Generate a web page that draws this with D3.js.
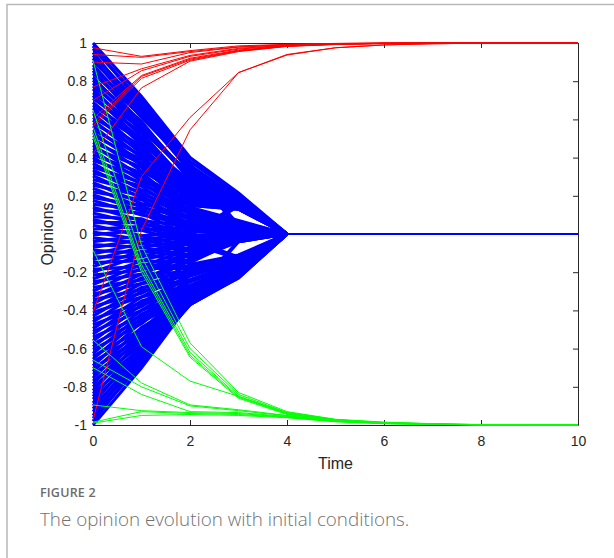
<!DOCTYPE html>
<html>
<head>
<meta charset="utf-8">
<script src="https://cdn.jsdelivr.net/npm/d3@7"></script>
<style>
  body { margin: 0; background: #fff; }
  svg { display: block; }
</style>
</head>
<body>
<script>
'use strict';

// time steps
const times = [0, 1, 2, 3, 4, 5, 6, 7, 8, 9, 10];

// blue agents: opinions at t = 0, 1, 2, 3 (all reach consensus 0 from t = 4)
const blueT0 = [1.00, 0.985, 0.97, 0.95, 0.935, 0.92, 0.905, 0.885, 0.87, 0.855,
  0.84, 0.82, 0.805, 0.79, 0.775, 0.76, 0.74, 0.725, 0.71, 0.69,
  0.675, 0.66, 0.645, 0.63, 0.61, 0.595, 0.58, 0.565, 0.545, 0.53,
  0.515, 0.50, 0.48, 0.465, 0.45, 0.435, 0.415, 0.40, 0.385, 0.37,
  0.35, 0.335, 0.32, 0.305, 0.285, 0.27, 0.255, 0.24, 0.22, 0.205,
  0.19, 0.175, 0.155, 0.14, 0.125, 0.11, 0.09, 0.075, 0.06, 0.045,
  0.025, 0.01, -0.005, -0.02, -0.04, -0.055, -0.07, -0.085, -0.105, -0.12,
  -0.135, -0.15, -0.17, -0.185, -0.2, -0.215, -0.235, -0.25, -0.265, -0.28,
  -0.30, -0.315, -0.33, -0.345, -0.365, -0.38, -0.395, -0.41, -0.43, -0.445,
  -0.46, -0.475, -0.495, -0.51, -0.525, -0.54, -0.56, -0.575, -0.59, -0.605,
  -0.625, -0.64, -0.655, -0.67, -0.69, -0.705, -0.72, -0.735, -0.755, -0.77,
  -0.785, -0.80, -0.82, -0.835, -0.85, -0.865, -0.885, -0.90, -0.915, -0.93,
  -0.95, -0.965, -0.98, -1.00];
const blueT1 = [0.72, 0.68, 0.70, 0.64, 0.67, 0.62, 0.66, 0.61, 0.63, 0.58,
  0.62, 0.56, 0.59, 0.54, 0.57, 0.51, 0.55, 0.49, 0.53, 0.47,
  0.50, 0.44, 0.49, 0.42, 0.46, 0.40, 0.44, 0.37, 0.41, 0.36,
  0.39, 0.33, 0.37, 0.30, 0.35, 0.28, 0.32, 0.26, 0.30, 0.23,
  0.27, 0.21, 0.25, 0.19, 0.22, 0.16, 0.20, 0.14, 0.18, 0.12,
  0.15, 0.10, 0.13, 0.07, 0.11, 0.05, 0.08, 0.02, 0.06, -0.01,
  0.04, -0.03, 0.02, -0.05, -0.01, -0.07, -0.03, -0.10, -0.05, -0.12,
  -0.07, -0.14, -0.09, -0.17, -0.11, -0.19, -0.14, -0.21, -0.16, -0.24,
  -0.18, -0.26, -0.21, -0.29, -0.23, -0.31, -0.26, -0.33, -0.28, -0.36,
  -0.30, -0.38, -0.33, -0.40, -0.35, -0.43, -0.37, -0.45, -0.40, -0.47,
  -0.42, -0.50, -0.44, -0.52, -0.46, -0.54, -0.49, -0.56, -0.51, -0.58,
  -0.53, -0.60, -0.55, -0.62, -0.58, -0.63, -0.60, -0.65, -0.62, -0.66,
  -0.64, -0.68, -0.66, -0.70];
const blueT2 = [0.40, 0.36, 0.38, 0.37, 0.34, 0.35, 0.32, 0.36, 0.33, 0.30,
  0.34, 0.31, 0.28, 0.32, 0.29, 0.26, 0.30, 0.27, 0.25, 0.28,
  0.24, 0.26, 0.22, 0.25, 0.21, 0.23, 0.19, 0.22, 0.18, 0.20,
  0.17, 0.19, 0.15, 0.17, 0.14, 0.16, 0.12, 0.15, 0.11, 0.13,
  0.10, 0.12, 0.08, 0.11, 0.07, 0.09, 0.05, 0.08, 0.04, 0.06,
  0.02, 0.05, 0.01, 0.04, -0.01, 0.02, -0.02, 0.03, -0.03, 0.01,
  -0.04, 0.00, -0.05, -0.01, -0.06, -0.03, -0.08, -0.04, -0.09, -0.05,
  -0.11, -0.07, -0.12, -0.08, -0.14, -0.10, -0.15, -0.11, -0.17, -0.13,
  -0.18, -0.14, -0.20, -0.16, -0.21, -0.18, -0.22, -0.19, -0.24, -0.21,
  -0.25, -0.22, -0.27, -0.24, -0.28, -0.25, -0.29, -0.27, -0.30, -0.28,
  -0.31, -0.29, -0.32, -0.30, -0.33, -0.31, -0.34, -0.32, -0.35, -0.33,
  -0.36, -0.34, -0.35, -0.36, -0.34, -0.37, -0.35, -0.36, -0.34, -0.37,
  -0.36, -0.35, -0.37, -0.36];
const blueT3 = [0.215, 0.19, 0.205, 0.04, 0.20, 0.185, 0.195, 0.02, 0.18, 0.19,
  0.17, 0.185, 0.165, 0.05, 0.175, 0.16, 0.17, 0.15, 0.165, 0.155,
  0.145, 0.16, 0.14, 0.15, 0.135, 0.145, 0.13, 0.14, 0.135, 0.13,
  0.14, 0.135, 0.13, 0.145, 0.07, 0.14, 0.065, 0.13, 0.06, 0.055,
  0.06, 0.05, 0.045, 0.055, 0.04, 0.05, 0.035, 0.045, 0.03, 0.04,
  0.025, 0.035, 0.15, 0.03, 0.16, 0.02, 0.01, 0.025, 0.005, 0.015,
  0.0, 0.145, -0.005, 0.01, -0.01, -0.12, -0.015, -0.005, -0.02, -0.13,
  -0.025, -0.015, -0.03, -0.02, -0.035, -0.025, -0.03, -0.035, -0.12, -0.04,
  -0.115, -0.04, -0.125, -0.11, -0.13, -0.12, -0.14, -0.125, -0.15, -0.135,
  -0.155, -0.14, -0.165, -0.15, -0.17, -0.16, -0.18, -0.165, -0.185, -0.175,
  -0.19, -0.18, -0.035, -0.19, -0.20, -0.195, -0.205, -0.20, -0.21, -0.04,
  -0.215, -0.205, -0.22, -0.21, -0.215, -0.225, -0.22, -0.23, -0.21, -0.225,
  -0.22, -0.215, -0.23, -0.225];
const blueLate = [0, 0, 0, 0, 0, 0, 0]; // t = 4 .. 10

// red agents (go to +1)
const redLines = [
  [0.975, 0.93, 0.96, 0.985, 0.993, 0.998, 1, 1, 1, 1, 1],
  [0.94, 0.925, 0.955, 0.98, 0.992, 0.997, 1, 1, 1, 1, 1],
  [0.90, 0.89, 0.95, 0.978, 0.99, 0.996, 0.999, 1, 1, 1, 1],
  [0.77, 0.865, 0.935, 0.972, 0.988, 0.995, 0.999, 1, 1, 1, 1],
  [0.70, 0.855, 0.93, 0.968, 0.987, 0.995, 0.998, 1, 1, 1, 1],
  [0.605, 0.83, 0.92, 0.963, 0.985, 0.994, 0.998, 1, 1, 1, 1],
  [0.58, 0.825, 0.915, 0.96, 0.984, 0.993, 0.998, 1, 1, 1, 1],
  [0.565, 0.815, 0.91, 0.958, 0.983, 0.993, 0.997, 1, 1, 1, 1],
  [0.42, 0.765, 0.905, 0.955, 0.982, 0.992, 0.997, 1, 1, 1, 1],
  [-0.41, 0.30, 0.61, 0.845, 0.94, 0.975, 0.99, 0.996, 0.999, 1, 1],
  [-0.975, 0.02, 0.545, 0.845, 0.937, 0.975, 0.99, 0.996, 0.999, 1, 1]
];

// green agents (go to -1)
const greenLines = [
  [0.91, -0.06, -0.57, -0.83, -0.93, -0.97, -0.985, -0.993, -0.998, -1, -1],
  [0.65, -0.12, -0.60, -0.84, -0.935, -0.972, -0.987, -0.994, -0.998, -1, -1],
  [0.56, -0.16, -0.62, -0.85, -0.94, -0.974, -0.988, -0.995, -0.999, -1, -1],
  [0.53, -0.18, -0.635, -0.855, -0.942, -0.975, -0.989, -0.995, -0.999, -1, -1],
  [0.51, -0.20, -0.645, -0.86, -0.945, -0.976, -0.99, -0.996, -0.999, -1, -1],
  [-0.085, -0.59, -0.77, -0.85, -0.935, -0.972, -0.987, -0.994, -0.998, -1, -1],
  [-0.555, -0.78, -0.895, -0.92, -0.95, -0.977, -0.99, -0.996, -0.999, -1, -1],
  [-0.66, -0.80, -0.90, -0.925, -0.952, -0.978, -0.99, -0.996, -0.999, -1, -1],
  [-0.70, -0.84, -0.93, -0.935, -0.955, -0.98, -0.991, -0.996, -0.999, -1, -1],
  [-0.895, -0.925, -0.935, -0.94, -0.958, -0.98, -0.992, -0.997, -0.999, -1, -1],
  [-0.985, -0.93, -0.94, -0.945, -0.96, -0.982, -0.992, -0.997, -0.999, -1, -1],
  [-0.99, -0.95, -0.945, -0.95, -0.962, -0.983, -0.993, -0.997, -0.999, -1, -1]
];

const xTicks = [0, 2, 4, 6, 8, 10];
const yTicks = [1, 0.8, 0.6, 0.4, 0.2, 0, -0.2, -0.4, -0.6, -0.8, -1];
const yTickLabels = ['1', '0.8', '0.6', '0.4', '0.2', '0', '-0.2', '-0.4', '-0.6', '-0.8', '-1'];

const W = 614, H = 558;
const margin = {top: 43, right: 36, bottom: 133, left: 93};
const width = W - margin.left - margin.right,
      height = H - margin.top - margin.bottom;

const svg = d3.select('body').append('svg')
  .attr('width', W)
  .attr('height', H);

// card frame (top + left edge)
svg.append('path')
  .attr('d', 'M7,558 V4.5 H614')
  .attr('fill', 'none')
  .attr('stroke', '#b8b8b8')
  .attr('stroke-width', 1.5);

const g = svg.append('g')
  .attr('transform', 'translate(' + margin.left + ',' + margin.top + ')');

const x = d3.scaleLinear().domain([0, 10]).range([0, width]);
const y = d3.scaleLinear().domain([-1, 1]).range([height, 0]);

const axisColor = '#262626';
const tickFont = '"Liberation Sans", Arial, sans-serif';

function styleAxis(sel) {
  sel.attr('font-family', null).attr('font-size', null);
  sel.select('.domain').attr('stroke', axisColor).attr('stroke-width', 1);
  sel.selectAll('.tick line').attr('stroke', axisColor).attr('stroke-width', 1);
  sel.selectAll('.tick text')
    .attr('fill', axisColor)
    .style('font-family', tickFont)
    .style('font-size', '14px');
}

g.append('g')
  .attr('transform', 'translate(0,' + height + ')')
  .call(d3.axisBottom(x).tickValues(xTicks).tickFormat(d3.format('d'))
    .tickSizeInner(-5).tickSizeOuter(0).tickPadding(11))
  .call(styleAxis);

g.append('g')
  .call(d3.axisTop(x).tickValues(xTicks).tickFormat('')
    .tickSizeInner(-5).tickSizeOuter(0))
  .call(styleAxis);

g.append('g')
  .call(d3.axisLeft(y).tickValues(yTicks).tickFormat((d, i) => yTickLabels[i])
    .tickSizeInner(-5).tickSizeOuter(0).tickPadding(6))
  .call(styleAxis);

g.append('g')
  .attr('transform', 'translate(' + width + ',0)')
  .call(d3.axisRight(y).tickValues(yTicks).tickFormat('')
    .tickSizeInner(-5).tickSizeOuter(0))
  .call(styleAxis);

// opinion trajectories
const line = d3.line()
  .x(d => x(d[0]))
  .y(d => y(d[1]));

const blueSeries = blueT0.map((v, i) => [v, blueT1[i], blueT2[i], blueT3[i]].concat(blueLate));
const toPoints = s => s.map((v, i) => [times[i], v]);

// t = 0..4 part of the blue lines (dense fan)
g.append('g')
  .selectAll('path')
  .data(blueSeries)
  .enter()
  .append('path')
    .attr('d', s => line(toPoints(s).slice(0, 5)))
    .attr('fill', 'none')
    .attr('stroke', '#0000ff')
    .attr('stroke-width', 3.2);

// t = 4..10 part (consensus, all overlapping)
g.append('g')
  .selectAll('path')
  .data(blueSeries)
  .enter()
  .append('path')
    .attr('d', s => line(toPoints(s).slice(4)))
    .attr('fill', 'none')
    .attr('stroke', '#0000ff')
    .attr('stroke-width', 1.8);

g.append('g')
  .selectAll('path')
  .data(redLines)
  .enter()
  .append('path')
    .attr('d', s => line(toPoints(s)))
    .attr('fill', 'none')
    .attr('stroke', '#ff0000')
    .attr('stroke-width', 1);

g.append('g')
  .selectAll('path')
  .data(greenLines)
  .enter()
  .append('path')
    .attr('d', s => line(toPoints(s)))
    .attr('fill', 'none')
    .attr('stroke', '#00ff00')
    .attr('stroke-width', 1);

// axis labels
g.append('text')
  .attr('x', width / 2)
  .attr('y', height + 44)
  .style('font-family', tickFont)
  .style('font-size', '16px')
  .attr('fill', axisColor)
  .style('text-anchor', 'middle')
  .text('Time');

g.append('text')
  .attr('transform', 'translate(-40,' + (height / 2) + ') rotate(-90)')
  .style('font-family', tickFont)
  .style('font-size', '16px')
  .attr('fill', axisColor)
  .style('text-anchor', 'middle')
  .text('Opinions');

// caption
svg.append('text')
  .attr('x', 40)
  .attr('y', 497)
  .style('font-family', '"Open Sans", sans-serif')
  .style('font-size', '12.5px')
  .style('letter-spacing', '0.2px')
  .attr('font-weight', 600)
  .attr('fill', '#6b6b6b')
  .text('FIGURE 2');

svg.append('text')
  .attr('x', 40)
  .attr('y', 526)
  .style('font-family', '"Open Sans", sans-serif')
  .style('font-size', '18.8px')
  .attr('font-weight', 300)
  .attr('fill', '#707070')
  .text('The opinion evolution with initial conditions.');
</script>
</body>
</html>
